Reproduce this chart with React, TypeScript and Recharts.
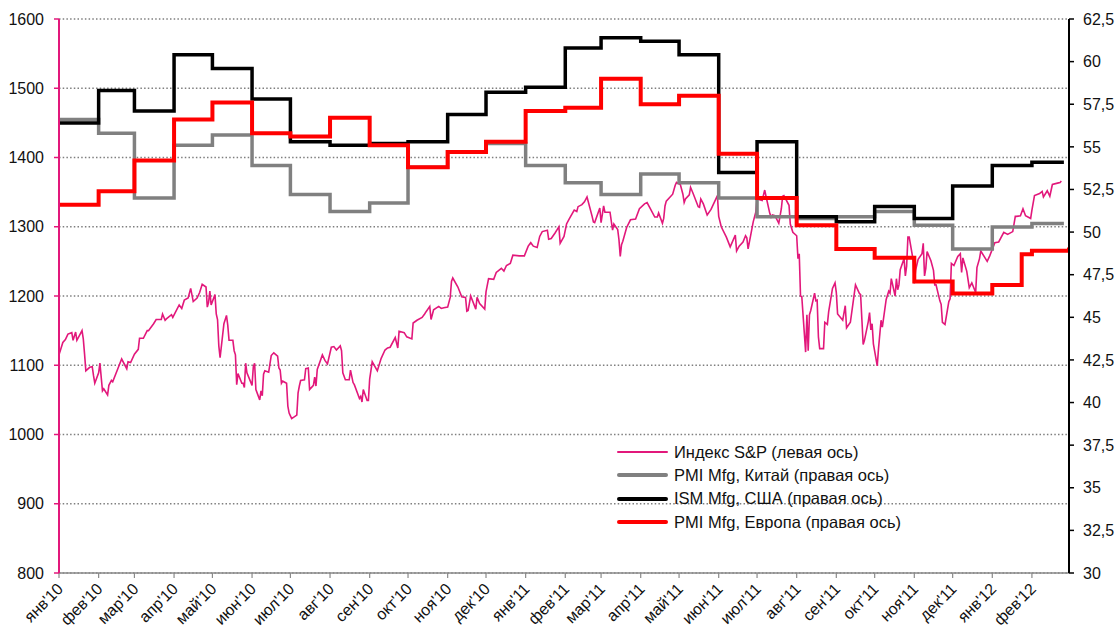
import React from "react";
import { LineChart, Line, XAxis, YAxis, CartesianGrid } from "recharts";

const FONT = "'Liberation Sans', Arial, sans-serif";
const PINK = "#e2187b";

// month labels, Jan'10 .. Feb'12
const monthLabels = [
  "янв'10", "фев'10", "мар'10", "апр'10", "май'10", "июн'10", "июл'10", "авг'10", "сен'10", "окт'10", "ноя'10", "дек'10",
  "янв'11", "фев'11", "мар'11", "апр'11", "май'11", "июн'11", "июл'11", "авг'11", "сен'11", "окт'11", "ноя'11", "дек'11",
  "янв'12", "фев'12",
];

// monthly PMI readings (right axis), one per month Jan'10 .. Feb'12
const pmiChina = [56.6, 55.8, 52.0, 55.1, 55.7, 53.9, 52.2, 51.2, 51.7, 53.8, 54.7, 55.2, 53.9, 52.9, 52.2, 53.4, 52.9, 52.0, 50.9, 50.8, 50.9, 51.2, 50.4, 49.0, 50.3, 50.5];
const ismUsa = [56.4, 58.3, 57.1, 60.4, 59.6, 57.8, 55.3, 55.1, 55.2, 55.3, 56.9, 58.2, 58.5, 60.8, 61.4, 61.2, 60.4, 53.5, 55.3, 50.9, 50.6, 51.5, 50.8, 52.7, 53.9, 54.1];
const pmiEurope = [51.6, 52.4, 54.2, 56.6, 57.6, 55.8, 55.6, 56.7, 55.1, 53.8, 54.7, 55.3, 57.1, 57.3, 59.0, 57.5, 58.0, 54.6, 52.0, 50.4, 49.0, 48.5, 47.1, 46.4, 46.9];
// Europe late steps (flash release in late Jan'12)
const europeLateDates = ["12-01-24", "12-02-01", "12-03-01"];
const europeLateValues = [48.7, 48.9, 49.1];
const seriesEnd = "12-02-26";

// S&P 500 (left axis)
const spDates = [
  "10-01-01", "10-01-04", "10-01-06", "10-01-08", "10-01-11", "10-01-12", "10-01-14", "10-01-15", "10-01-19", "10-01-20", "10-01-21", "10-01-22",
  "10-01-25", "10-01-27", "10-01-28", "10-01-29", "10-02-01", "10-02-02", "10-02-04", "10-02-05", "10-02-08", "10-02-09", "10-02-11", "10-02-12",
  "10-02-16", "10-02-19", "10-02-23", "10-02-24", "10-02-26", "10-03-01", "10-03-04", "10-03-05", "10-03-08", "10-03-11", "10-03-12", "10-03-16",
  "10-03-18", "10-03-22", "10-03-23", "10-03-25", "10-03-26", "10-03-30", "10-03-31", "10-04-05", "10-04-07", "10-04-09", "10-04-12", "10-04-14",
  "10-04-16", "10-04-19", "10-04-21", "10-04-23", "10-04-26", "10-04-27", "10-04-28", "10-04-29", "10-04-30", "10-05-03", "10-05-04", "10-05-05",
  "10-05-06", "10-05-07", "10-05-10", "10-05-12", "10-05-13", "10-05-14", "10-05-17", "10-05-18", "10-05-19", "10-05-20", "10-05-21", "10-05-24",
  "10-05-25", "10-05-26", "10-05-27", "10-05-28", "10-06-01", "10-06-02", "10-06-03", "10-06-04", "10-06-07", "10-06-08", "10-06-09", "10-06-10",
  "10-06-11", "10-06-14", "10-06-16", "10-06-18", "10-06-21", "10-06-22", "10-06-23", "10-06-24", "10-06-25", "10-06-28", "10-06-29", "10-06-30",
  "10-07-01", "10-07-02", "10-07-06", "10-07-07", "10-07-08", "10-07-09", "10-07-12", "10-07-13", "10-07-15", "10-07-16", "10-07-19", "10-07-20",
  "10-07-21", "10-07-22", "10-07-26", "10-07-28", "10-07-30", "10-08-02", "10-08-04", "10-08-06", "10-08-09", "10-08-10", "10-08-11", "10-08-13",
  "10-08-16", "10-08-17", "10-08-19", "10-08-20", "10-08-24", "10-08-25", "10-08-26", "10-08-27", "10-08-30", "10-08-31", "10-09-01", "10-09-03",
  "10-09-07", "10-09-10", "10-09-13", "10-09-15", "10-09-17", "10-09-21", "10-09-23", "10-09-24", "10-09-28", "10-09-30", "10-10-04", "10-10-05",
  "10-10-08", "10-10-12", "10-10-14", "10-10-15", "10-10-18", "10-10-19", "10-10-21", "10-10-25", "10-10-27", "10-10-29", "10-11-01", "10-11-03",
  "10-11-04", "10-11-05", "10-11-09", "10-11-12", "10-11-15", "10-11-16", "10-11-17", "10-11-19", "10-11-23", "10-11-24", "10-11-26", "10-11-30",
  "10-12-01", "10-12-03", "10-12-07", "10-12-09", "10-12-13", "10-12-15", "10-12-17", "10-12-20", "10-12-22", "10-12-27", "10-12-31",
  "11-01-03", "11-01-05", "11-01-07", "11-01-10", "11-01-12", "11-01-14", "11-01-18", "11-01-19", "11-01-21", "11-01-24", "11-01-26", "11-01-27",
  "11-01-28", "11-01-31", "11-02-02", "11-02-04", "11-02-08", "11-02-10", "11-02-11", "11-02-14", "11-02-16", "11-02-18", "11-02-22", "11-02-23",
  "11-02-24", "11-02-28", "11-03-01", "11-03-03", "11-03-04", "11-03-08", "11-03-10", "11-03-11", "11-03-14", "11-03-15", "11-03-16", "11-03-17",
  "11-03-18", "11-03-21", "11-03-24", "11-03-28", "11-03-31", "11-04-04", "11-04-06", "11-04-08", "11-04-12", "11-04-14", "11-04-15", "11-04-18",
  "11-04-19", "11-04-20", "11-04-21", "11-04-26", "11-04-28", "11-04-29", "11-05-02", "11-05-04", "11-05-05", "11-05-06", "11-05-09", "11-05-10",
  "11-05-12", "11-05-16", "11-05-17", "11-05-18", "11-05-20", "11-05-23", "11-05-26", "11-05-31", "11-06-01", "11-06-03", "11-06-07", "11-06-10",
  "11-06-14", "11-06-15", "11-06-17", "11-06-20", "11-06-22", "11-06-23", "11-06-24", "11-06-28", "11-06-30", "11-07-01", "11-07-05", "11-07-07",
  "11-07-08", "11-07-11", "11-07-12", "11-07-13", "11-07-15", "11-07-18", "11-07-20", "11-07-21", "11-07-22", "11-07-26", "11-07-27", "11-07-29",
  "11-08-01", "11-08-02", "11-08-03", "11-08-04", "11-08-05", "11-08-08", "11-08-09", "11-08-10", "11-08-11", "11-08-12", "11-08-15", "11-08-16",
  "11-08-17", "11-08-18", "11-08-19", "11-08-22", "11-08-23", "11-08-25", "11-08-26", "11-08-29", "11-08-31", "11-09-01", "11-09-02", "11-09-06",
  "11-09-08", "11-09-09", "11-09-12", "11-09-14", "11-09-16", "11-09-19", "11-09-20", "11-09-21", "11-09-22", "11-09-23", "11-09-26", "11-09-27",
  "11-09-28", "11-09-29", "11-09-30", "11-10-03", "11-10-04", "11-10-06", "11-10-07", "11-10-10", "11-10-12", "11-10-13", "11-10-14", "11-10-17",
  "11-10-18", "11-10-19", "11-10-20", "11-10-21", "11-10-24", "11-10-25", "11-10-26", "11-10-27", "11-10-28", "11-10-31", "11-11-01", "11-11-02",
  "11-11-04", "11-11-07", "11-11-08", "11-11-09", "11-11-10", "11-11-11", "11-11-14", "11-11-16", "11-11-17", "11-11-18", "11-11-21", "11-11-22",
  "11-11-23", "11-11-25", "11-11-28", "11-11-29", "11-11-30", "11-12-02", "11-12-05", "11-12-07", "11-12-08", "11-12-09", "11-12-12", "11-12-14",
  "11-12-16", "11-12-19", "11-12-20", "11-12-22", "11-12-23", "11-12-28", "11-12-30",
  "12-01-03", "12-01-06", "12-01-10", "12-01-13", "12-01-17", "12-01-19", "12-01-20", "12-01-23", "12-01-25", "12-01-27", "12-01-30", "12-01-31",
  "12-02-01", "12-02-03", "12-02-07", "12-02-09", "12-02-10", "12-02-13", "12-02-15", "12-02-17", "12-02-21", "12-02-23", "12-02-24",
];
const spValues = [
  1115, 1133, 1137, 1145, 1147, 1136, 1148, 1136, 1150, 1138, 1116, 1092,
  1097, 1098, 1085, 1074, 1089, 1103, 1063, 1066, 1057, 1071, 1078, 1076,
  1095, 1109, 1095, 1105, 1104, 1116, 1123, 1139, 1139, 1150, 1150, 1160,
  1166, 1166, 1174, 1165, 1167, 1173, 1169, 1187, 1182, 1194, 1197, 1211,
  1192, 1197, 1205, 1217, 1213, 1184, 1191, 1207, 1187, 1202, 1174, 1166,
  1128, 1111, 1160, 1172, 1158, 1136, 1136, 1121, 1115, 1072, 1088, 1074,
  1074, 1068, 1103, 1089, 1071, 1098, 1103, 1065, 1050, 1063, 1056, 1087,
  1092, 1090, 1114, 1118, 1113, 1096, 1093, 1074, 1077, 1074, 1041, 1031,
  1027, 1023, 1028, 1060, 1070, 1078, 1079, 1095, 1096, 1065, 1071, 1083,
  1070, 1094, 1115, 1107, 1102, 1126, 1127, 1122, 1128, 1121, 1089, 1079,
  1079, 1093, 1075, 1072, 1052, 1055, 1047, 1065, 1049, 1049, 1080, 1105,
  1092, 1110, 1122, 1125, 1126, 1140, 1125, 1149, 1147, 1141, 1138, 1161,
  1165, 1169, 1174, 1177, 1185, 1166, 1180, 1185, 1182, 1183, 1184, 1198,
  1221, 1226, 1213, 1199, 1198, 1178, 1179, 1200, 1181, 1198, 1189, 1181,
  1206, 1225, 1224, 1234, 1240, 1236, 1244, 1247, 1259, 1258, 1258,
  1272, 1277, 1272, 1270, 1286, 1293, 1295, 1282, 1283, 1291, 1297, 1300,
  1276, 1286, 1304, 1311, 1324, 1322, 1329, 1332, 1336, 1343, 1315, 1307,
  1306, 1327, 1306, 1330, 1321, 1321, 1295, 1304, 1296, 1281, 1257, 1274,
  1279, 1299, 1310, 1311, 1326, 1333, 1335, 1328, 1314, 1314, 1320, 1305,
  1312, 1330, 1337, 1347, 1360, 1364, 1361, 1347, 1335, 1340, 1346, 1357,
  1348, 1329, 1328, 1340, 1333, 1317, 1325, 1345, 1315, 1300, 1285, 1271,
  1288, 1265, 1272, 1278, 1287, 1284, 1268, 1307, 1321, 1340, 1338, 1353,
  1344, 1319, 1314, 1317, 1316, 1305, 1326, 1344, 1345, 1331, 1304, 1292,
  1287, 1254, 1261, 1200, 1199, 1119, 1173, 1121, 1173, 1179, 1204, 1193,
  1194, 1141, 1124, 1124, 1162, 1159, 1177, 1211, 1219, 1205, 1174, 1165,
  1186, 1154, 1162, 1189, 1216, 1204, 1202, 1166, 1130, 1136, 1163, 1176,
  1151, 1160, 1131, 1099, 1124, 1165, 1155, 1195, 1207, 1204, 1225, 1200,
  1225, 1209, 1216, 1238, 1254, 1229, 1243, 1285, 1285, 1253, 1218, 1237,
  1253, 1261, 1276, 1229, 1240, 1264, 1251, 1237, 1216, 1216, 1193, 1188,
  1162, 1159, 1192, 1196, 1247, 1244, 1257, 1261, 1234, 1255, 1236, 1212,
  1219, 1205, 1241, 1254, 1265, 1250, 1258,
  1277, 1278, 1292, 1289, 1293, 1315, 1315, 1316, 1326, 1316, 1313, 1312,
  1324, 1345, 1348, 1351, 1343, 1352, 1344, 1361, 1363, 1364, 1366,
];

const leftTicks = [800, 900, 1000, 1100, 1200, 1300, 1400, 1500, 1600];
const rightTicks = [30, 32.5, 35, 37.5, 40, 42.5, 45, 47.5, 50, 52.5, 55, 57.5, 60, 62.5];

const dayOf = (s: string) => (Date.parse("20" + s) - Date.parse("2010-01-01")) / 86400000;
const monthDays = monthLabels.map((_, i) => (Date.UTC(2010, i, 1) - Date.UTC(2010, 0, 1)) / 86400000);
const endDay = dayOf("12-03-01");

const stepSeries = (vals: number[], end: string) => [
  ...vals.map((v, i) => ({ d: monthDays[i], v })),
  { d: dayOf(end), v: vals[vals.length - 1] },
];

const spData = spDates.map((s, i) => ({ d: dayOf(s), v: spValues[i] }));
const chinaData = stepSeries(pmiChina, seriesEnd);
const usaData = stepSeries(ismUsa, seriesEnd);
const europeData = [
  ...pmiEurope.map((v, i) => ({ d: monthDays[i], v })),
  ...europeLateDates.map((s, i) => ({ d: dayOf(s), v: europeLateValues[i] })),
];

const labelByDay: Record<number, string> = {};
monthDays.forEach((d, i) => (labelByDay[d] = monthLabels[i]));

const MonthTick = ({ x, y, payload }: { x?: number; y?: number; payload?: { value: number } }) => {
  if (x === undefined || y === undefined || !payload) return null;
  return (
    <text
      transform={`translate(${x + 5},${y + 10}) rotate(-45)`}
      textAnchor="end"
      fontSize={16}
      fontFamily={FONT}
      fill="#111"
    >
      {labelByDay[payload.value]}
    </text>
  );
};

const legendItems = [
  { label: "Индекс S&P (левая ось)", color: PINK, w: 1.6 },
  { label: "PMI Mfg, Китай (правая ось)", color: "#808080", w: 4 },
  { label: "ISM Mfg, США (правая ось)", color: "#000000", w: 4 },
  { label: "PMI Mfg, Европа (правая ось)", color: "#ff0000", w: 4 },
];

export default function App() {
  return (
    <div style={{ position: "absolute", left: 0, top: 0, width: 1116, height: 628, background: "#fff", fontFamily: FONT }}>
      <LineChart width={1116} height={628} margin={{ top: 19, right: 0, left: 0, bottom: 0 }}>
        <CartesianGrid yAxisId="left" vertical={false} stroke="#7f7f7f" strokeDasharray="1.5 2.2" strokeWidth={1.3} />
        <XAxis
          type="number"
          dataKey="d"
          domain={[0, endDay]}
          ticks={monthDays}
          interval={0}
          height={55}
          tick={<MonthTick />}
          tickSize={5}
          axisLine={{ stroke: "#8a8a8a", strokeWidth: 1.5 }}
          tickLine={{ stroke: "#8a8a8a", strokeWidth: 1.2 }}
          allowDataOverflow
        />
        <YAxis
          yAxisId="left"
          orientation="left"
          domain={[800, 1600]}
          ticks={leftTicks}
          width={59}
          tickSize={5}
          tickMargin={10}
          axisLine={{ stroke: PINK, strokeWidth: 2 }}
          tickLine={{ stroke: PINK, strokeWidth: 1.5 }}
          tick={{ fontSize: 16, fill: "#111", fontFamily: FONT }}
          allowDataOverflow
        />
        <YAxis
          yAxisId="right"
          orientation="right"
          domain={[30, 62.5]}
          ticks={rightTicks}
          width={47}
          tickSize={5}
          tickMargin={9}
          axisLine={{ stroke: "#000", strokeWidth: 2 }}
          tickLine={{ stroke: "#000", strokeWidth: 1.5 }}
          tick={{ fontSize: 16, fill: "#111", fontFamily: FONT }}
          tickFormatter={(v: number) => String(v).replace(".", ",")}
          allowDataOverflow
        />
        <Line yAxisId="left" data={spData} dataKey="v" type="linear" stroke={PINK} strokeWidth={1.6} dot={false} isAnimationActive={false} />
        <Line yAxisId="right" data={chinaData} dataKey="v" type="stepAfter" stroke="#808080" strokeWidth={3.5} dot={false} isAnimationActive={false} />
        <Line yAxisId="right" data={usaData} dataKey="v" type="stepAfter" stroke="#000000" strokeWidth={3.5} dot={false} isAnimationActive={false} />
        <Line yAxisId="right" data={europeData} dataKey="v" type="stepAfter" stroke="#ff0000" strokeWidth={4} dot={false} isAnimationActive={false} />
      </LineChart>
      {legendItems.map((it, i) => (
        <div
          key={it.label}
          style={{ position: "absolute", left: 617, top: 452 + i * 23.4 - 10, height: 20, display: "flex", alignItems: "center", whiteSpace: "nowrap" }}
        >
          <div style={{ width: 51, height: it.w, background: it.color, borderRadius: 2 }} />
          <span style={{ marginLeft: 6, fontSize: 16.5, color: "#111" }}>{it.label}</span>
        </div>
      ))}
    </div>
  );
}
